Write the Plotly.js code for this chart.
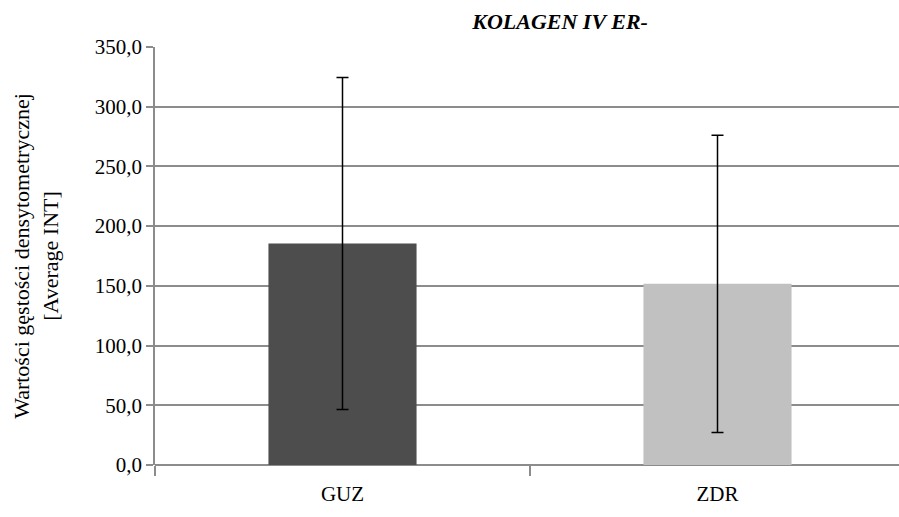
<!DOCTYPE html>
<html>
<head>
<meta charset="utf-8">
<script src="https://cdn.plot.ly/plotly-3.0.1.min.js"></script>
<style>
html,body{margin:0;padding:0;background:#fff;}
#chart{width:899px;height:517px;}
</style>
</head>
<body>
<div id="chart"></div>
<script>
const categories = ["GUZ", "ZDR"];
const means = [185.5, 151.7];
const errors = [139.0, 124.5];
const barColors = ["#4d4d4d", "#c1c1c1"];
const titleText = "KOLAGEN IV ER-";
const yTitle = "Wartości gęstości densytometrycznej<br>[Average INT]";

const fontFam = "Liberation Serif";

const trace = {
  type: "bar",
  x: categories,
  y: means,
  width: 0.395,
  marker: {color: barColors, line: {width: 0}},
  error_y: {type: "data", array: errors, visible: true, color: "#000", thickness: 1.5, width: 6},
  hoverinfo: "none"
};

const layout = {
  width: 899, height: 517,
  margin: {l: 155, r: 0, t: 47, b: 52},
  paper_bgcolor: "#fff", plot_bgcolor: "#fff",
  separators: ", ",
  showlegend: false,
  font: {family: fontFam},
  title: {
    text: "<b><i>" + titleText + "</i></b>",
    font: {family: fontFam, size: 22, color: "#000"},
    xref: "container", x: 0.623, xanchor: "center",
    yref: "container", y: 0.958, yanchor: "middle"
  },
  xaxis: {
    type: "category",
    range: [-0.5, 1.484],
    showgrid: false,
    showline: false,
    zeroline: false,
    ticks: "outside",
    tickson: "boundaries",
    ticklen: 10,
    tickwidth: 1.5,
    tickcolor: "#8c8c8c",
    tickfont: {family: fontFam, size: 21, color: "#000"},
    ticklabelstandoff: 14
  },
  yaxis: {
    range: [0, 350],
    tickvals: [0, 50, 100, 150, 200, 250, 300, 350],
    tickformat: ".1f",
    showgrid: true,
    gridcolor: "#8c8c8c",
    gridwidth: 1.5,
    zeroline: true,
    zerolinecolor: "#8c8c8c",
    zerolinewidth: 1.5,
    showline: true,
    linecolor: "#8c8c8c",
    linewidth: 1.5,
    ticks: "outside",
    ticklen: 7,
    tickwidth: 1.5,
    tickcolor: "#8c8c8c",
    tickfont: {family: fontFam, size: 21, color: "#000"},
    title: {text: yTitle, font: {family: fontFam, size: 22, color: "#000"}, standoff: 30}
  }
};

Plotly.newPlot("chart", [trace], layout, {displayModeBar: false});
</script>
</body>
</html>
